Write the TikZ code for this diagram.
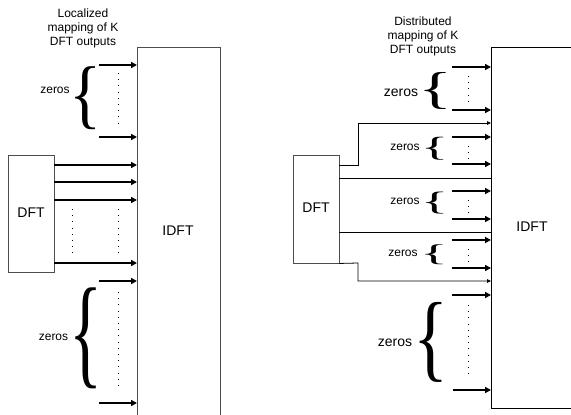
\documentclass[tikz,border=0pt]{standalone}
\usepackage{fontspec}
\usepackage{graphicx}
\setmainfont{Liberation Sans}
\newfontfamily\bracefont{Liberation Serif}
\newcommand{\mybrace}[2]{\resizebox*{#1}{#2}{\bracefont\{}}
\usetikzlibrary{arrows.meta}
\begin{document}
\begin{tikzpicture}[x=1pt,y=-1pt,
  boxline/.style={draw=black!70,line width=0.9pt},
  thickarrow/.style={line width=2.2pt,-{Triangle[length=6pt,width=6pt]}},
  thinarrow/.style={line width=0.8pt,-{Triangle[length=4pt,width=3.5pt]}},
  plainline/.style={line width=0.9pt},
  dotline/.style={line width=0.7pt,dash pattern=on 0.7pt off 5.5pt},
  bracenode/.style={inner sep=0pt,outer sep=0pt},
  title/.style={align=center,font=\fontsize{12}{14}\selectfont},
  small/.style={font=\fontsize{12}{14}\selectfont,inner sep=0pt},
  big/.style={font=\fontsize{14}{16}\selectfont,inner sep=0pt},
  dftbox/.style={boxline,minimum width=46pt,inner sep=0pt}
]
\useasboundingbox (0,0) rectangle (571,415);

% ================= LEFT: localized =================
\node[title] (tl) at (83,28) {Localized\\mapping of K\\DFT outputs};
\draw[boxline] (137,416) -- (137,47) -- (220,47) -- (220,416);
\node[big] (idftl) at (178,231) {IDFT};
\node[dftbox,minimum height=117pt] (dftl) at (31,213.5) {};
\node[big] at (31,213) {DFT};

\coordinate (L1) at (137,0);
% top zeros
\draw[thickarrow] (99,65) -- (L1 |- 0,65);
\draw[thickarrow] (99,137) -- (L1 |- 0,137);
\draw[dotline] (118,73) -- (118,126);
\node[bracenode] (b1) at (86,98.5) {\mybrace{32pt}{63pt}};
\node[small] (z1) at (55,90) {zeros};

% DFT outputs
\foreach \yy in {165,182,200,263}
  \draw[thickarrow] (dftl.east |- 0,\yy) -- (L1 |- 0,\yy);
\draw[dotline] (72,209) -- (72,254);
\draw[dotline] (118,209) -- (118,254);

% bottom zeros
\draw[thickarrow] (99,281) -- (L1 |- 0,281);
\draw[thickarrow] (99,403) -- (L1 |- 0,403);
\draw[dotline] (118,292) -- (118,390);
\node[bracenode] (b2) at (86,338) {\mybrace{33pt}{101pt}};
\node[small] (z2) at (53.5,337) {zeros};

% ================= RIGHT: distributed =================
\node[title] (tr) at (423,36) {Distributed\\mapping of K\\DFT outputs};
\draw[line width=0.9pt] (572,47) -- (491,47) -- (491,408) -- (572,408);
\node[big] (idftr) at (532,227) {IDFT};
\node[dftbox,minimum height=108pt] (dftr) at (316,209) {};
\node[big] at (316,208) {DFT};

\coordinate (R1) at (491,0);

% group 1
\draw[thickarrow] (452,67) -- (R1 |- 0,67);
\draw[thickarrow] (452,110) -- (R1 |- 0,110);
\draw[dotline] (468,76) -- (468,101);
\node[bracenode] (b3) at (436,91) {\mybrace{34pt}{37pt}};
\node[big] (z3) at (401,93) {zeros};

% thin routed arrow up
\draw[thinarrow] (dftr.east |- 0,165) -- (358,165) -- (358,123) -- (R1 |- 0,123);

% group 2
\draw[thickarrow] (452,137) -- (R1 |- 0,137);
\draw[thickarrow] (452,164) -- (R1 |- 0,164);
\draw[dotline] (468,146) -- (468,160);
\node[bracenode] (b4) at (434.5,149) {\mybrace{28pt}{23pt}};
\node[small] (z4) at (405,147) {zeros};

% straight line
\draw[plainline] (dftr.east |- 0,178) -- (R1 |- 0,178);

% group 3
\draw[thickarrow] (452,191) -- (R1 |- 0,191);
\draw[thickarrow] (452,219) -- (R1 |- 0,219);
\draw[dotline] (468,200) -- (468,214);
\node[bracenode] (b5) at (434.5,203) {\mybrace{28pt}{22pt}};
\node[small] (z5) at (405,201) {zeros};

% straight line
\draw[plainline] (dftr.east |- 0,232) -- (R1 |- 0,232);

% group 4
\draw[thickarrow] (452,240) -- (R1 |- 0,240);
\draw[thickarrow] (452,268) -- (R1 |- 0,268);
\draw[dotline] (468,249) -- (468,263);
\node[bracenode] (b6) at (434,255) {\mybrace{28pt}{20pt}};
\node[small] (z6) at (403,253) {zeros};

% thin routed arrow down
\draw[thinarrow] (dftr.south east) -- (358,263) -- (358,281) -- (R1 |- 0,281);

% bottom group
\draw[thickarrow] (452,295) -- (R1 |- 0,295);
\draw[thickarrow] (453,390) -- (R1 |- 0,390);
\draw[dotline] (468,305) -- (468,378);
\node[bracenode] (b7) at (431.5,342.5) {\mybrace{35pt}{80pt}};
\node[big] (z7) at (395,343) {zeros};
\end{tikzpicture}
\end{document}
